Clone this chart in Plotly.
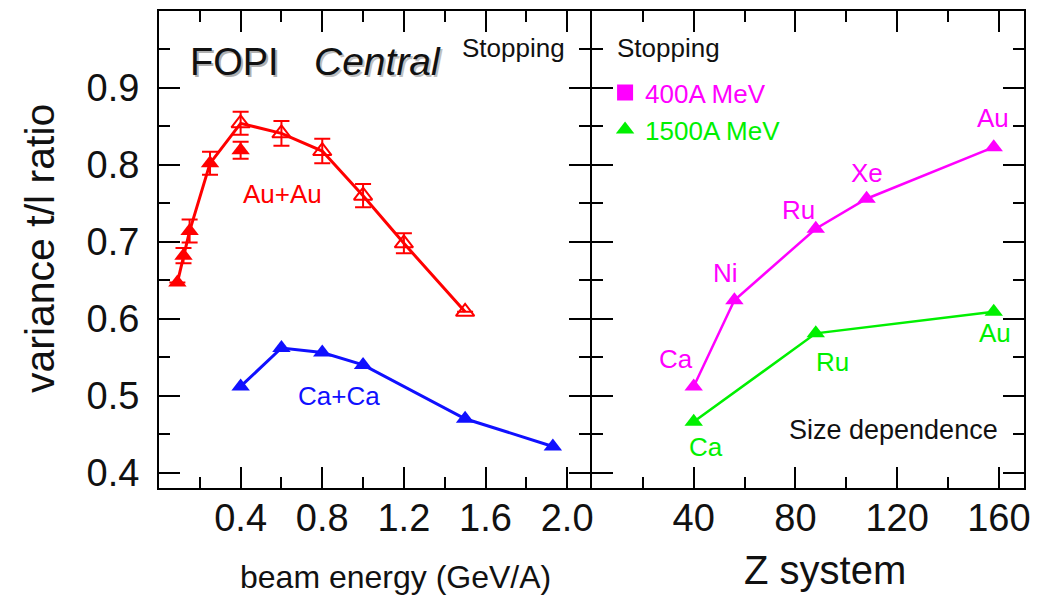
import plotly.graph_objects as go

# ---- Au+Au central collisions: variance ratio vs beam energy (GeV/A) ----
au_filled_e = [0.09, 0.12, 0.15, 0.25, 0.4]
au_filled_v = [0.647, 0.682, 0.714, 0.802, 0.819]
au_filled_err = [None, 0.010, 0.015, 0.015, 0.011]

au_open_e = [0.4, 0.6, 0.8, 1.0, 1.2, 1.5]
au_open_v = [0.854, 0.841, 0.818, 0.760, 0.698, 0.609]
au_open_err = [0.015, 0.016, 0.016, 0.015, 0.013, None]

# ---- Ca+Ca central collisions ----
ca_e = [0.4, 0.6, 0.8, 1.0, 1.5, 1.93]
ca_v = [0.512, 0.562, 0.556, 0.540, 0.470, 0.434]

# ---- size dependence (Z of the system) ----
z_400 = [40, 56, 88, 108, 158]
v_400 = [0.512, 0.624, 0.717, 0.756, 0.823]
names_400 = ["Ca", "Ni", "Ru", "Xe", "Au"]

z_1500 = [40, 88, 158]
v_1500 = [0.466, 0.581, 0.609]
names_1500 = ["Ca", "Ru", "Au"]

# ---- tick labels ----
e_ticks = [0.4, 0.8, 1.2, 1.6, 2.0]
e_minor = [0.2, 0.6, 1.0, 1.4, 1.8]
z_ticks = [40, 80, 120, 160]
z_minor = [20, 60, 100, 140]
v_ticks = [0.4, 0.5, 0.6, 0.7, 0.8, 0.9]
v_minor = [0.45, 0.55, 0.65, 0.75, 0.85, 0.95]

# label offsets (pixels) for the element names next to each point
off_400 = [(-18, 27), (-9, 27), (-17, 19), (0, 26), (-1, 29)]
off_1500 = [(12, -25), (17, -29), (1, -21)]

FONT = "Liberation Sans, Arial, Helvetica, sans-serif"
RED, BLUE, MAG, GRN = "#ff0000", "#1010ff", "#ff00ff", "#00f000"
MSIZE = 16

fig = go.Figure()

# Au+Au connecting line (filled points below 0.4 GeV, then the open series)
au_line_e = au_filled_e[:4] + au_open_e
au_line_v = au_filled_v[:4] + au_open_v
fig.add_trace(go.Scatter(x=au_line_e, y=au_line_v, mode="lines",
                         line=dict(color=RED, width=3), showlegend=False,
                         xaxis="x", yaxis="y"))
fig.add_trace(go.Scatter(x=au_filled_e, y=au_filled_v, mode="markers",
                         marker=dict(symbol="triangle-up", size=MSIZE, color=RED),
                         error_y=dict(type="data", array=au_filled_err, color=RED,
                                      thickness=2, width=8),
                         showlegend=False, xaxis="x", yaxis="y"))
fig.add_trace(go.Scatter(x=au_open_e, y=au_open_v, mode="markers",
                         marker=dict(symbol="triangle-up-open", size=MSIZE, color=RED,
                                     line=dict(width=2, color=RED)),
                         error_y=dict(type="data", array=au_open_err, color=RED,
                                      thickness=2, width=8),
                         showlegend=False, xaxis="x", yaxis="y"))

# Ca+Ca
fig.add_trace(go.Scatter(x=ca_e, y=ca_v, mode="lines+markers",
                         line=dict(color=BLUE, width=3),
                         marker=dict(symbol="triangle-up", size=MSIZE, color=BLUE),
                         showlegend=False, xaxis="x", yaxis="y"))

# size dependence
fig.add_trace(go.Scatter(x=z_400, y=v_400, mode="lines+markers",
                         line=dict(color=MAG, width=2.5),
                         marker=dict(symbol="triangle-up", size=MSIZE, color=MAG),
                         showlegend=False, xaxis="x2", yaxis="y2"))
fig.add_trace(go.Scatter(x=z_1500, y=v_1500, mode="lines+markers",
                         line=dict(color=GRN, width=2.5),
                         marker=dict(symbol="triangle-up", size=MSIZE, color=GRN),
                         showlegend=False, xaxis="x2", yaxis="y2"))

# legend keys
fig.add_trace(go.Scatter(x=[None], y=[None], mode="markers",
                         marker=dict(symbol="square", size=18, color=MAG),
                         name=f"<span style='color:{MAG}'>400A MeV</span>",
                         xaxis="x2", yaxis="y2"))
fig.add_trace(go.Scatter(x=[None], y=[None], mode="markers",
                         marker=dict(symbol="triangle-up", size=18, color=GRN),
                         name=f"<span style='color:{GRN}'>1500A MeV</span>",
                         xaxis="x2", yaxis="y2"))

ann = []
for z, v, n, (dx, dy) in zip(z_400, v_400, names_400, off_400):
    ann.append(dict(x=z, y=v, xref="x2", yref="y2", text=n, showarrow=False,
                    xshift=dx, yshift=dy, font=dict(size=26, color=MAG, family=FONT)))
for z, v, n, (dx, dy) in zip(z_1500, v_1500, names_1500, off_1500):
    ann.append(dict(x=z, y=v, xref="x2", yref="y2", text=n, showarrow=False,
                    xshift=dx, yshift=dy, font=dict(size=26, color=GRN, family=FONT)))

def txt(x, y, s, size, color="#111", xref="x", yref="y", xanchor="center",
        textangle=0, italic=False):
    return dict(x=x, y=y, xref=xref, yref=yref, text=(f"<i>{s}</i>" if italic else s),
                showarrow=False, xanchor=xanchor, yanchor="middle", textangle=textangle,
                font=dict(size=size, color=color, family=FONT))

# panel captions (with a soft drop shadow on the headline)
ann.append(dict(x=0.372, y=0.934, xref="x", yref="y", text="FOPI", showarrow=False,
                xshift=2, yshift=-2, font=dict(size=38, color="#b0b0b0", family=FONT)))
ann.append(txt(0.372, 0.934, "FOPI", 38))
ann.append(dict(x=1.073, y=0.934, xref="x", yref="y", text="<i>Central</i>", showarrow=False,
                xshift=2, yshift=-2, font=dict(size=39, color="#c0c0c0", family=FONT)))
ann.append(txt(1.073, 0.934, "Central", 39, italic=True))
ann.append(txt(2.0, 0.952, "Stopping", 26, xanchor="right"))
ann.append(txt(9.0, 0.952, "Stopping", 26, xref="x2", yref="y2", xanchor="left"))
ann.append(txt(160.3, 0.456, "Size dependence", 27, xref="x2", yref="y2", xanchor="right"))
ann.append(txt(0.603, 0.762, "Au+Au", 26, color=RED))
ann.append(txt(0.882, 0.499, "Ca+Ca", 26, color=BLUE))

# axis titles
ann.append(txt(-0.1376, 0.503, "variance t/l ratio", 41, xref="paper", yref="paper",
               textangle=-90))
ann.append(txt(0.273, -0.186, "beam energy (GeV/A)", 32, xref="paper", yref="paper"))
ann.append(txt(0.770, -0.171, "Z system", 40, xref="paper", yref="paper"))

common = dict(showline=True, linewidth=2, linecolor="black", mirror="ticks",
              ticks="inside", tickwidth=2, tickcolor="black", showgrid=False,
              zeroline=False, tickfont=dict(size=38, color="#111", family=FONT))
minor_common = dict(ticks="inside", ticklen=11, tickwidth=1.5, tickcolor="black",
                    showgrid=False)

# the two panels share a single border line near x = 591 px
PLOT_W = 1043 - 159 - 19
LEFT_END = (590 - 159) / PLOT_W
RIGHT_START = (592 - 159) / PLOT_W

Y_RANGE = [0.38, 1.0]
fig.update_layout(
    width=1043, height=595,
    margin=dict(l=159, r=19, t=9, b=107),
    paper_bgcolor="white", plot_bgcolor="white",
    font=dict(family=FONT, color="#111"),
    xaxis=dict(domain=[0, LEFT_END], range=[0, 2.112], tickmode="array",
               tickvals=e_ticks, ticktext=[f"{t:.1f}" for t in e_ticks],
               ticklen=21, ticklabelstandoff=-5,
               minor=dict(tickmode="array", tickvals=e_minor, **minor_common), **common),
    yaxis=dict(domain=[0, 1], range=Y_RANGE, tickmode="array",
               tickvals=v_ticks, ticktext=[f"{t:.1f}" for t in v_ticks],
               ticklen=21, ticklabelstandoff=10,
               minor=dict(tickmode="array", tickvals=v_minor, **minor_common), **common),
    xaxis2=dict(domain=[RIGHT_START, 1], range=[0, 169.9], anchor="y2", tickmode="array",
                tickvals=z_ticks, ticktext=[str(t) for t in z_ticks],
                ticklen=21, ticklabelstandoff=-5,
                minor=dict(tickmode="array", tickvals=z_minor, **minor_common), **common),
    yaxis2=dict(domain=[0, 1], range=Y_RANGE, anchor="x2", tickmode="array",
                tickvals=v_ticks, showticklabels=False, ticklen=21,
                minor=dict(tickmode="array", tickvals=v_minor, **minor_common), **common),
    legend=dict(x=0.5157, y=0.878, xanchor="left", yanchor="top",
                bgcolor="rgba(0,0,0,0)", font=dict(size=26, family=FONT),
                itemsizing="trace", tracegroupgap=0),
    annotations=ann,
)

fig.write_html("out.html")
